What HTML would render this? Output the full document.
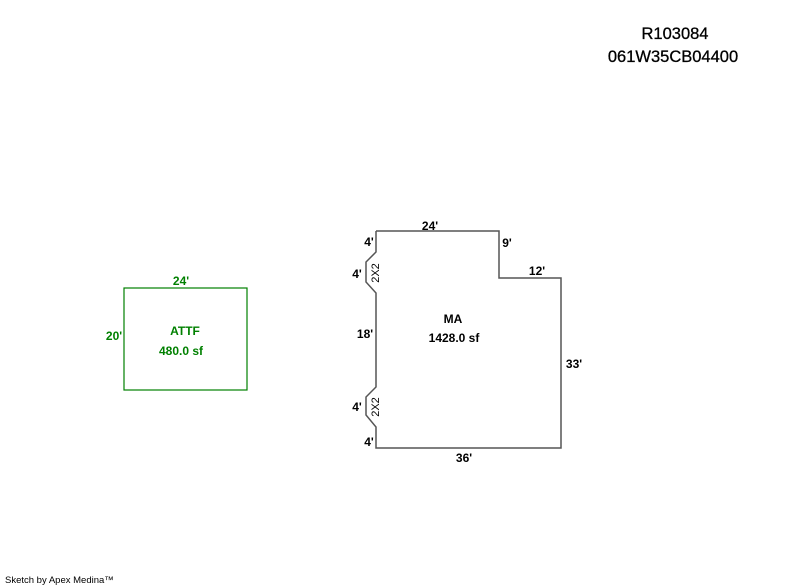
<!DOCTYPE html>
<html><head><style>
html,body{margin:0;padding:0;background:#fff;}
svg{display:block;font-family:"Liberation Sans",Arial,sans-serif;}
</style></head><body>
<svg width="800" height="587" viewBox="0 0 800 587">
<text x="675" y="39" font-size="16.5" text-anchor="middle" fill="#000" stroke="#000" stroke-width="0.3">R103084</text>
<text x="673" y="62" font-size="16.5" text-anchor="middle" fill="#000" stroke="#000" stroke-width="0.3">061W35CB04400</text>
<rect x="124" y="288" width="123" height="102" fill="none" stroke="#008000" stroke-width="1.2"/>
<g font-size="12" font-weight="bold" fill="#008000" text-anchor="middle">
<text x="181" y="285">24'</text>
<text x="114" y="340">20'</text>
<text x="185" y="335">ATTF</text>
<text x="181" y="355">480.0 sf</text>
</g>
<polyline points="376,231 499,231 499,278 561,278 561,448 376,448 376,427 366,415 366,397 376,387 376,293 366,282 366,262 376,252 376,231" fill="none" stroke="#555" stroke-width="1.5"/>
<g font-size="12" font-weight="bold" fill="#000" text-anchor="middle">
<text x="430" y="230">24'</text>
<text x="507" y="247">9'</text>
<text x="537" y="275">12'</text>
<text x="574" y="368">33'</text>
<text x="464" y="462">36'</text>
<text x="369" y="246">4'</text>
<text x="357" y="278">4'</text>
<text x="365" y="338">18'</text>
<text x="357" y="411">4'</text>
<text x="369" y="446">4'</text>
<text x="453" y="323">MA</text>
<text x="454" y="342">1428.0 sf</text>
</g>
<g font-size="11" fill="#000" text-anchor="middle">
<text transform="translate(379,273) rotate(-90)">2X2</text>
<text transform="translate(379,407) rotate(-90)">2X2</text>
</g>
<text x="5" y="583" font-size="9.5" fill="#000">Sketch by Apex Medina™</text>
</svg>
</body></html>
